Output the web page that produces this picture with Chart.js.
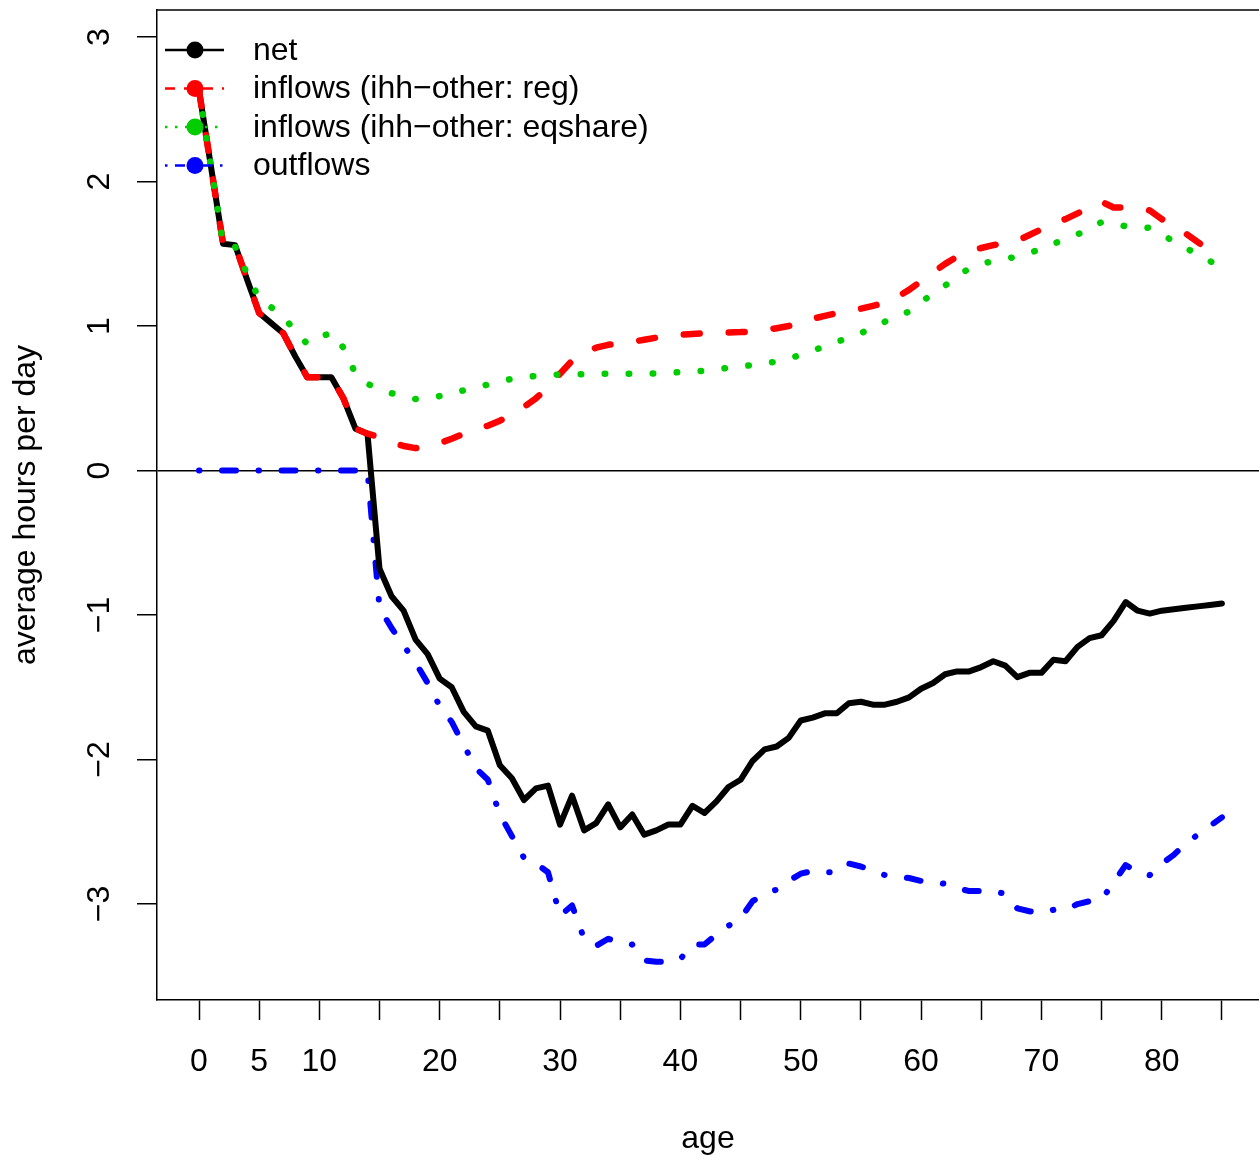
<!DOCTYPE html>
<html lang="en">
<head>
    <meta charset="UTF-8">
    <title>Time flows by age</title>
    <script src="https://cdn.jsdelivr.net/npm/chart.js"></script>
    <style>
        html, body { margin: 0; padding: 0; background: #fff; }
        canvas { display: block; }
    </style>
</head>
<body>
<canvas id="flowsChart" width="1259" height="1155"></canvas>
<script>
    // ages 0..85
    const ages = [0, 1, 2, 3, 4, 5, 6, 7, 8, 9, 10, 11, 12, 13, 14, 15, 16, 17, 18, 19,
        20, 21, 22, 23, 24, 25, 26, 27, 28, 29, 30, 31, 32, 33, 34, 35, 36, 37, 38, 39,
        40, 41, 42, 43, 44, 45, 46, 47, 48, 49, 50, 51, 52, 53, 54, 55, 56, 57, 58, 59,
        60, 61, 62, 63, 64, 65, 66, 67, 68, 69, 70, 71, 72, 73, 74, 75, 76, 77, 78, 79,
        80, 81, 82, 83, 84, 85];

    const netFlow = [2.63, 2.10, 1.57, 1.56, 1.32, 1.09, 1.02, 0.95, 0.79, 0.645,
        0.645, 0.645, 0.50, 0.29, 0.255, -0.68, -0.87, -0.97, -1.17, -1.27,
        -1.44, -1.50, -1.67, -1.77, -1.80, -2.04, -2.13, -2.28, -2.20, -2.18,
        -2.45, -2.25, -2.49, -2.44, -2.31, -2.47, -2.38, -2.52, -2.49, -2.45,
        -2.45, -2.32, -2.37, -2.29, -2.19, -2.14, -2.01, -1.93, -1.91, -1.85,
        -1.73, -1.71, -1.68, -1.68, -1.61, -1.60, -1.62, -1.62, -1.60, -1.57,
        -1.51, -1.47, -1.41, -1.39, -1.39, -1.36, -1.32, -1.35, -1.43, -1.40,
        -1.40, -1.31, -1.32, -1.22, -1.16, -1.14, -1.04, -0.91, -0.97, -0.99,
        -0.97, -0.96, -0.95, -0.94, -0.93, -0.92];

    const inflowsReg = [2.63, 2.10, 1.57, 1.56, 1.32, 1.09, 1.02, 0.95, 0.79, 0.645,
        0.645, 0.645, 0.50, 0.29, 0.255, 0.23, 0.195, 0.17, 0.155, 0.17,
        0.19, 0.22, 0.255, 0.285, 0.31, 0.345, 0.39, 0.44, 0.50, 0.575,
        0.67, 0.76, 0.815, 0.85, 0.87, 0.88, 0.89, 0.905, 0.92, 0.93,
        0.94, 0.945, 0.95, 0.955, 0.956, 0.958, 0.962, 0.97, 0.985, 1.00,
        1.03, 1.05, 1.07, 1.09, 1.10, 1.12, 1.14, 1.16, 1.20, 1.25,
        1.31, 1.37, 1.43, 1.48, 1.52, 1.54, 1.56, 1.575, 1.59, 1.63,
        1.67, 1.71, 1.74, 1.78, 1.82, 1.86, 1.82, 1.82, 1.815, 1.80,
        1.74, 1.69, 1.64, 1.58, 1.52, 1.47];

    const inflowsEqshare = [2.63, 2.10, 1.57, 1.55, 1.36, 1.19, 1.13, 1.06, 0.97, 0.875,
        0.92, 0.955, 0.85, 0.67, 0.60, 0.565, 0.535, 0.51, 0.495, 0.50,
        0.515, 0.535, 0.555, 0.575, 0.595, 0.615, 0.635, 0.645, 0.655, 0.66,
        0.665, 0.665, 0.667, 0.67, 0.67, 0.67, 0.67, 0.67, 0.672, 0.678,
        0.68, 0.685, 0.69, 0.70, 0.712, 0.72, 0.73, 0.74, 0.755, 0.775,
        0.80, 0.83, 0.86, 0.89, 0.92, 0.95, 0.99, 1.03, 1.065, 1.10,
        1.17, 1.22, 1.28, 1.34, 1.40, 1.43, 1.45, 1.465, 1.48, 1.505,
        1.535, 1.57, 1.60, 1.635, 1.67, 1.72, 1.71, 1.69, 1.685, 1.68,
        1.635, 1.585, 1.54, 1.495, 1.45, 1.40];

    const outflows = [0, 0, 0, 0, 0, 0, 0, 0, 0, 0,
        0, 0, 0, 0, 0, -0.95, -1.09, -1.21, -1.33, -1.47,
        -1.63, -1.74, -1.90, -2.06, -2.14, -2.38, -2.53, -2.68, -2.72, -2.78,
        -3.08, -3.01, -3.24, -3.29, -3.24, -3.27, -3.28, -3.39, -3.40, -3.40,
        -3.38, -3.28, -3.28, -3.21, -3.15, -3.10, -2.98, -2.93, -2.90, -2.84,
        -2.79, -2.77, -2.78, -2.78, -2.72, -2.74, -2.77, -2.80, -2.81, -2.82,
        -2.84, -2.85, -2.86, -2.89, -2.91, -2.91, -2.91, -2.93, -3.03, -3.05,
        -3.06, -3.04, -3.04, -3.00, -2.98, -2.97, -2.85, -2.73, -2.78, -2.80,
        -2.72, -2.66, -2.58, -2.52, -2.46, -2.40];

    const xTicks = [0, 5, 10, 15, 20, 25, 30, 35, 40, 45, 50, 55, 60, 65, 70, 75, 80, 85];
    const xTickLabels = ['0', '5', '10', '', '20', '', '30', '', '40', '', '50', '', '60', '', '70', '', '80', ''];
    const yTicks = [-3, -2, -1, 0, 1, 2, 3];

    const FONT = '"Liberation Sans", Arial, Helvetica, sans-serif';

    const series = [
        { label: 'net', data: netFlow, color: '#000000', width: 6, dash: [], legendDash: [], order: 4 },
        { label: 'inflows (ihh\u2212other: reg)', data: inflowsReg, color: '#FF0000', width: 6.5, dash: [16, 29], legendDash: [10, 9], order: 3 },
        { label: 'inflows (ihh\u2212other: eqshare)', data: inflowsEqshare, color: '#00CD00', width: 6.5, dash: [0.5, 23.5], legendDash: [2.5, 7.5], order: 1 },
        { label: 'outflows', data: outflows, color: '#0000FF', width: 6, dash: [0.5, 22.5, 14, 22.5], legendDash: [2.5, 7.5, 10, 7.5], order: 5 }
    ];

    // R-style extras: top box edge, rotated y tick labels, legend with line + point
    const rStyle = {
        id: 'rStyle',
        afterDraw(chart) {
            const ctx = chart.ctx;
            const area = chart.chartArea;
            const yScale = chart.scales.y;

            ctx.save();
            ctx.strokeStyle = '#000';
            ctx.lineWidth = 1.5;
            ctx.beginPath();
            ctx.moveTo(area.left, area.top);
            ctx.lineTo(area.right, area.top);
            ctx.stroke();

            ctx.fillStyle = '#000';
            ctx.font = '32px ' + FONT;
            ctx.textAlign = 'center';
            ctx.textBaseline = 'middle';
            yTicks.forEach(v => {
                const y = yScale.getPixelForValue(v);
                const txt = v < 0 ? '\u2212' + Math.abs(v) : String(v);
                ctx.save();
                ctx.translate(100, y);
                ctx.rotate(-Math.PI / 2);
                ctx.fillText(txt, 0, 0);
                ctx.restore();
            });

            // legend
            ctx.textAlign = 'left';
            series.forEach((s, i) => {
                const y = 50 + i * 38.5;
                ctx.strokeStyle = s.color;
                ctx.lineWidth = 2.3;
                ctx.setLineDash(s.legendDash);
                ctx.beginPath();
                ctx.moveTo(165, y);
                ctx.lineTo(224, y);
                ctx.stroke();
                ctx.setLineDash([]);
                ctx.fillStyle = s.color;
                ctx.beginPath();
                ctx.arc(195, y, 8.5, 0, Math.PI * 2);
                ctx.fill();
                ctx.fillStyle = '#000';
                ctx.fillText(s.label, 253, y + 1);
            });
            ctx.restore();
        }
    };

    const ctx = document.getElementById('flowsChart').getContext('2d');
    new Chart(ctx, {
        type: 'line',
        data: {
            datasets: series.map(s => ({
                label: s.label,
                data: ages.map((a, i) => ({ x: a, y: s.data[i] })),
                borderColor: s.color,
                borderWidth: s.width,
                borderDash: s.dash,
                borderCapStyle: 'round',
                borderJoinStyle: 'round',
                pointRadius: 0,
                fill: false,
                tension: 0,
                order: s.order
            }))
        },
        options: {
            responsive: false,
            animation: false,
            devicePixelRatio: 1,
            events: [],
            layout: { padding: { top: 10, right: 0, bottom: 0, left: 0 } },
            plugins: {
                legend: { display: false },
                tooltip: { enabled: false }
            },
            scales: {
                x: {
                    type: 'linear',
                    min: -3.49,
                    max: 88.08,
                    afterBuildTicks: scale => { scale.ticks = xTicks.map(v => ({ value: v })); },
                    afterFit: scale => { scale.height = 155; },
                    grid: {
                        drawOnChartArea: false,
                        drawTicks: true,
                        tickLength: 20,
                        tickColor: '#000',
                        tickWidth: 1.5
                    },
                    border: { display: true, color: '#000', width: 1.5 },
                    ticks: {
                        autoSkip: false,
                        maxRotation: 0,
                        padding: 23,
                        color: '#000',
                        font: { family: FONT, size: 32 },
                        callback: value => {
                            const i = xTicks.indexOf(value);
                            return i >= 0 ? xTickLabels[i] : '';
                        }
                    },
                    title: {
                        display: true,
                        text: 'age',
                        color: '#000',
                        font: { family: FONT, size: 32 },
                        padding: -3
                    }
                },
                y: {
                    type: 'linear',
                    min: -3.664,
                    max: 3.187,
                    afterBuildTicks: scale => { scale.ticks = yTicks.map(v => ({ value: v })); },
                    afterFit: scale => { scale.width = 157; },
                    grid: {
                        drawOnChartArea: true,
                        drawTicks: true,
                        tickLength: 20,
                        tickColor: '#000',
                        tickWidth: 1.5,
                        lineWidth: 1.5,
                        color: c => (c.tick && c.tick.value === 0 ? '#000' : 'rgba(0,0,0,0)')
                    },
                    border: { display: true, color: '#000', width: 1.5 },
                    ticks: { display: false },
                    title: {
                        display: true,
                        text: 'average hours per day',
                        color: '#000',
                        font: { family: FONT, size: 32 },
                        padding: 7
                    }
                }
            }
        },
        plugins: [rStyle]
    });
</script>
</body>
</html>
